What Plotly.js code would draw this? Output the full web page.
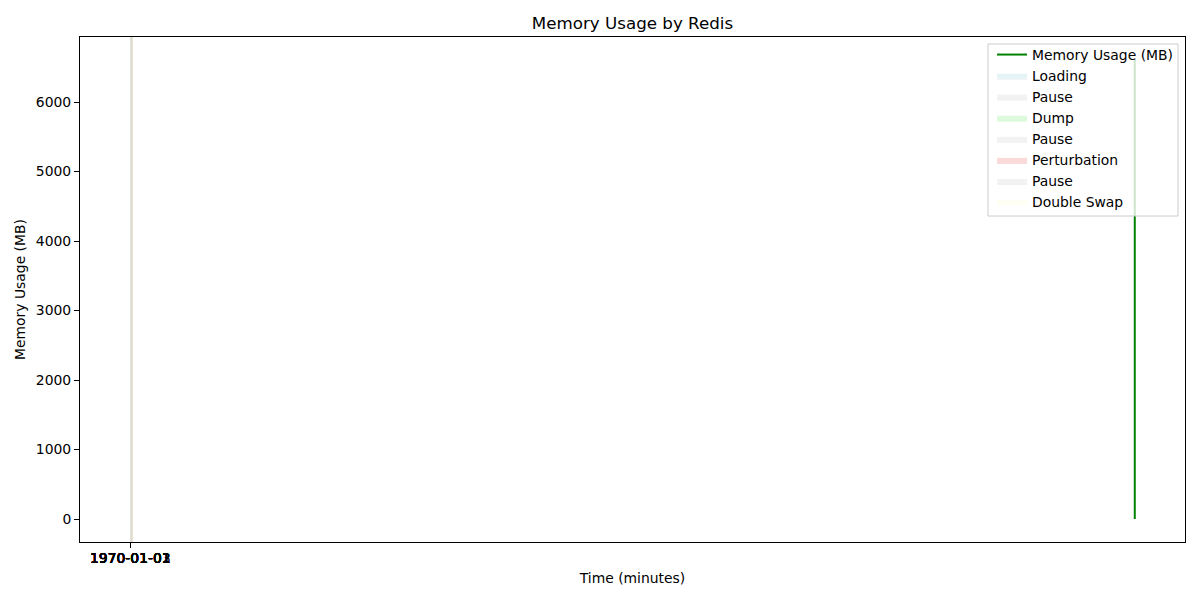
<!DOCTYPE html>
<html>
<head>
<meta charset="utf-8">
<script src="https://cdn.plot.ly/plotly-3.0.1.min.js"></script>
<style>html,body{margin:0;padding:0;background:#fff}#chart{width:1200px;height:600px}</style>
</head>
<body>
<div id="chart"></div>
<script>
// Memory series (x in minutes on the shared axis; all samples fall at one spot)
var memTime = [1000, 1000, 1000, 1000, 1000, 1000, 1000, 1000, 1000];
var memUsage = [0, 820, 1650, 2480, 3300, 4150, 4980, 5820, 6605];

// Phase spans (start / end) plotted near the origin of the axis
var phaseNames = ["Loading", "Pause", "Dump", "Pause", "Perturbation", "Pause", "Double Swap"];
var phaseStart = [0.0, 0.2, 0.3, 0.5, 0.6, 0.8, 0.9];
var phaseEnd   = [1.9, 2.0, 2.2, 2.3, 2.5, 2.6, 2.8];
var phaseColors = ["rgba(173,216,230,0.3)", "rgba(211,211,211,0.3)", "rgba(144,238,144,0.3)",
                   "rgba(211,211,211,0.3)", "rgba(240,128,128,0.3)", "rgba(211,211,211,0.3)",
                   "rgba(255,255,224,0.3)"];

// Tick labels (all land on essentially the same spot)
var tickVals = [0, 0.02, 0.04, 0.06, 0.08, 0.10, 0.12, 0.14];
var tickText = ["1970-01-01", "1970-01-02", "1970-01-03", "1970-01-04",
                "1970-01-05", "1970-01-06", "1970-01-07", "1970-01-08"];
var yTicks = [0, 1000, 2000, 3000, 4000, 5000, 6000];

var xmin = Math.min.apply(null, phaseStart.concat(memTime));
var xmax = Math.max.apply(null, phaseEnd.concat(memTime));
var ymin = Math.min.apply(null, memUsage);
var ymax = Math.max.apply(null, memUsage);
var xpad = (xmax - xmin) * 0.05, ypad = (ymax - ymin) * 0.05;
var xr = [xmin - xpad, xmax + xpad];
var yr = [ymin - ypad, ymax + ypad];

var traces = [{
  type: "scatter", mode: "lines", x: memTime, y: memUsage,
  name: "Memory Usage (MB)", line: {color: "#008000", width: 2},
  legendrank: 1
}];
for (var i = 0; i < phaseNames.length; i++) {
  traces.push({
    type: "scatter", mode: "lines",
    x: [phaseStart[i], phaseEnd[i], phaseEnd[i], phaseStart[i], phaseStart[i]],
    y: [yr[0], yr[0], yr[1], yr[1], yr[0]],
    fill: "toself", fillcolor: phaseColors[i],
    line: {width: 0, color: phaseColors[i]},
    name: phaseNames[i], legendrank: 2 + i, hoverinfo: "skip"
  });
}

var font = {family: "DejaVu Sans", size: 13.9, color: "#000"};
var layout = {
  width: 1200, height: 600,
  margin: {l: 80, r: 15, t: 37, b: 58},
  paper_bgcolor: "#fff", plot_bgcolor: "#fff",
  font: font,
  title: {text: "Memory Usage by Redis", font: {family: "DejaVu Sans", size: 16.7, color: "#000"},
          x: 0.5, xanchor: "center", y: 0.962, yanchor: "middle", xref: "paper"},
  showlegend: true,
  legend: {x: 0.9937, xanchor: "right", y: 0.996, yanchor: "top",
           bgcolor: "rgba(0,0,0,0)", borderwidth: 0,
           font: font, traceorder: "normal", itemwidth: 30, tracegroupgap: 0},
  shapes: [{type: "rect", xref: "paper", yref: "paper", layer: "above",
            x0: 0.8217, x1: 0.9937, y0: 0.6455, y1: 0.9861,
            fillcolor: "rgba(255,255,255,0.8)", line: {color: "#cccccc", width: 1}}],
  xaxis: {
    range: xr, showgrid: false, zeroline: false,
    showline: true, linecolor: "#000", linewidth: 1, mirror: true,
    ticks: "outside", ticklen: 5, tickwidth: 1, tickcolor: "#000",
    tickmode: "array", tickvals: tickVals, ticktext: tickText, tickangle: 0,
    ticklabelstandoff: -2,
    tickfont: font,
    title: {text: "Time (minutes)", font: font, standoff: 8}
  },
  yaxis: {
    range: yr, showgrid: false, zeroline: false,
    showline: true, linecolor: "#000", linewidth: 1, mirror: true,
    ticks: "outside", ticklen: 5, tickwidth: 1, tickcolor: "#000",
    tickmode: "array", tickvals: yTicks, ticktext: yTicks.map(String),
    tickfont: font,
    title: {text: "Memory Usage (MB)", font: font, standoff: 6}
  }
};
Plotly.newPlot("chart", traces, layout, {displayModeBar: false, staticPlot: true});
</script>
</body>
</html>
